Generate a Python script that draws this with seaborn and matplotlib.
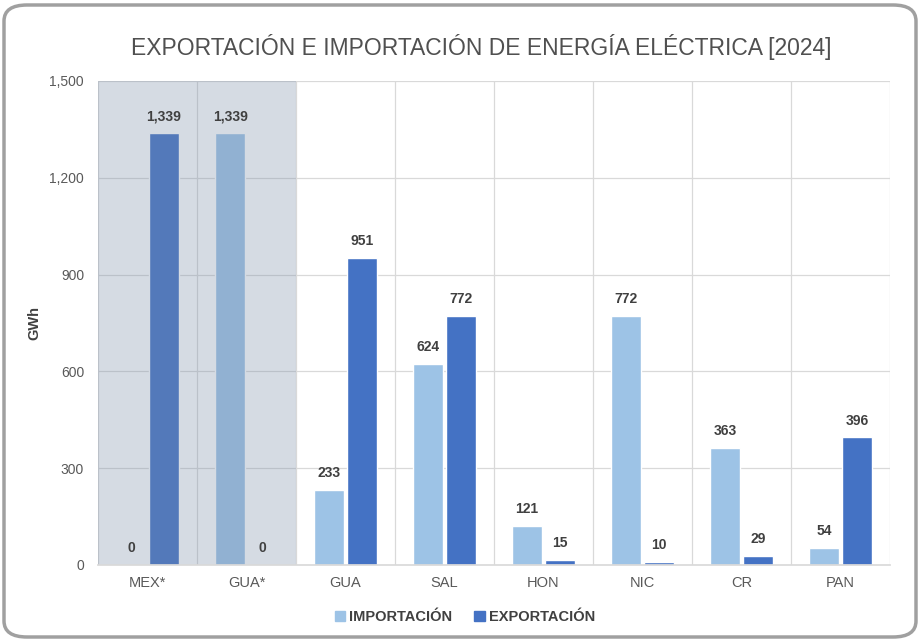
import matplotlib
matplotlib.use("Agg")
import matplotlib.pyplot as plt
import seaborn as sns
import pandas as pd
from matplotlib.patches import FancyBboxPatch

categories = ["MEX*", "GUA*", "GUA", "SAL", "HON", "NIC", "CR", "PAN"]
importacion = [0, 1339, 233, 624, 121, 772, 363, 54]
exportacion = [1339, 0, 951, 772, 15, 10, 29, 396]
series = ["IMPORTACIÓN", "EXPORTACIÓN"]
yticks = [0, 300, 600, 900, 1200, 1500]

df = pd.DataFrame({
    "cat": categories * 2,
    "serie": [series[0]] * len(categories) + [series[1]] * len(categories),
    "val": importacion + exportacion,
})

sns.set_theme(style="white")
plt.rcParams["font.family"] = ["Liberation Sans", "DejaVu Sans"]

fig = plt.figure(figsize=(9.21, 6.41), dpi=100)
ax = fig.add_axes([98/921, 1-565/641, (890-98)/921, (565-81)/641])

palette = {series[0]: "#9DC3E6", series[1]: "#4472C4"}
sns.barplot(data=df, x="cat", y="val", hue="serie", palette=palette,
            order=categories, hue_order=series, width=0.66, gap=0.1,
            saturation=1, ax=ax, legend=True, zorder=2)

ax.set_ylim(0, 1500)
ax.set_xlim(-0.5, len(categories) - 0.5)
ax.set_yticks(yticks)
ax.set_yticklabels([f"{v:,}" for v in yticks], color="#595959", fontsize=10)
ax.tick_params(axis="x", colors="#595959", labelsize=10.5, length=0, pad=8)
ax.tick_params(axis="y", length=0, pad=10)
for t in ax.get_xticklabels():
    t.set_color("#595959")

for y in yticks[1:]:
    ax.axhline(y, color="#D9D9D9", lw=0.9, zorder=0)
for i in range(len(categories) + 1):
    ax.axvline(i - 0.5, color="#D9D9D9", lw=0.9, zorder=0)
for s in ["left", "right", "top"]:
    ax.spines[s].set_visible(False)
ax.spines["bottom"].set_color("#D9D9D9")
ax.spines["bottom"].set_zorder(4)

# shaded region for MEX*/GUA*
ax.axvspan(-0.5, 1.5, color="#768AA5", alpha=0.3, lw=0, zorder=3)

ax.set_xlabel("")
ax.set_ylabel("GWh", fontsize=10.5, fontweight="bold", color="#404040", labelpad=6)

for cont in ax.containers:
    for bar in cont:
        h = bar.get_height()
        ax.annotate(f"{int(round(h)):,}", (bar.get_x() + bar.get_width()/2, h),
                    xytext=(0, 7), textcoords="offset points", ha="center", va="bottom",
                    fontsize=10, fontweight="bold", color="#404040", zorder=5)

leg = ax.get_legend()
leg.remove()
handles = [plt.Rectangle((0, 0), 1, 1, color=palette[s]) for s in series]
fig.legend(handles, series, loc="center", bbox_to_anchor=(0.505, 0.037), ncol=2,
           frameon=False, handlelength=0.7, handleheight=0.7, handletextpad=0.3,
           columnspacing=1.5, prop={"weight": "bold", "size": 10.5})
for t in fig.legends[0].get_texts():
    t.set_color("#404040")

fig.text(0.523, 1-47/641, "EXPORTACIÓN E IMPORTACIÓN DE ENERGÍA ELÉCTRICA [2024]",
         ha="center", va="center", fontsize=16.5, color="#505050")

border = FancyBboxPatch((4/921, 4/641), 912/921, 632/641,
                        boxstyle="round,pad=0,rounding_size=0.025",
                        transform=fig.transFigure, fill=False,
                        edgecolor="#A0A0A0", lw=2.5, zorder=0)
fig.patches.append(border)

fig.savefig("out.png", dpi=100)
